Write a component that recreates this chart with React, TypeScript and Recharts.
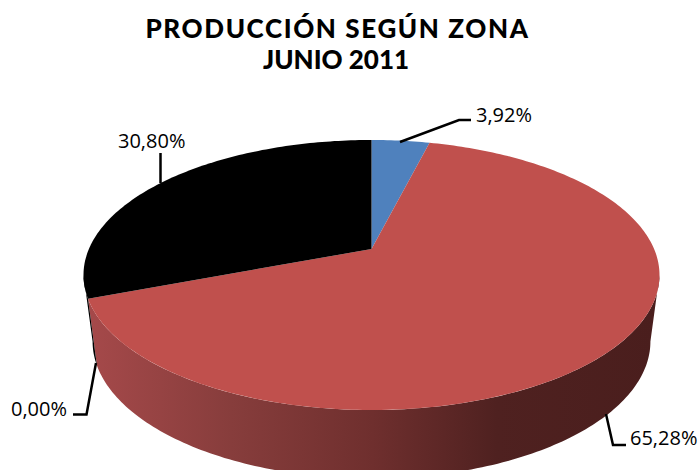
import React from "react";
import { PieChart, Pie, Cell } from "recharts";

const zones = ["Zona A", "Zona B", "Zona C", "Zona D"];
const shares = [3.92, 65.28, 0.0, 30.8];
const colors = ["#4f81bd", "#c0504d", "#9bbb59", "#000000"];
const titleLines = ["PRODUCCIÓN SEGÚN ZONA", "JUNIO 2011"];

const data = zones.map((name, i) => ({ name, value: shares[i] }));

const WIDTH = 699;
const HEIGHT = 470;
const CX = 371.5;
const CY = 249;
const RADIUS = 282.6;
const TILT = 0.1926; // perspective of the disc
const SQUASH = 130 / RADIUS;
const BOTTOM_RADIUS = 273.7;
const BOTTOM_CY = 315;
const BOTTOM_SQUASH = 132 / BOTTOM_RADIUS;
const SILHOUETTE = (Math.asin(TILT) * 180) / Math.PI;

const project = (clockDeg: number, r: number, cy: number, squash: number, cx: number) => {
  const t = (clockDeg * Math.PI) / 180;
  const u = Math.sin(t);
  const v = Math.cos(t);
  const d = 1 + TILT * v;
  return [cx + (r * u) / d, cy - (r * squash * v) / d];
};

const rimPoints = (from: number, to: number, r: number, cy: number, squash: number, cx: number) => {
  const n = Math.max(2, Math.ceil(Math.abs(to - from)));
  const pts: number[][] = [];
  for (let i = 0; i <= n; i++) pts.push(project(from + ((to - from) * i) / n, r, cy, squash, cx));
  return pts;
};

const toD = (pts: number[][]) => "M" + pts.map((p) => `${p[0].toFixed(2)},${p[1].toFixed(2)}`).join("L") + "Z";

const wallStops: [number, string][] = [
  [0, "#a5494a"],
  [0.25, "#873d3c"],
  [0.5, "#6f2f2e"],
  [0.72, "#4f2120"],
  [1, "#4a1e1d"],
];

const Slice = (props: any) => {
  const { cx, cy, outerRadius, startAngle, endAngle, fill, index } = props;
  const from = 90 - startAngle;
  const to = 90 - endAngle;
  if (Math.abs(to - from) < 0.001) return <g />;
  const top = rimPoints(from, to, outerRadius, cy, SQUASH, cx);
  const wFrom = Math.max(from, 90 + SILHOUETTE);
  const wTo = Math.min(to, 270 - SILHOUETTE);
  const hasWall = wTo > wFrom;
  const wallFill = index === 1 ? "url(#wallGradient)" : fill;
  return (
    <g>
      <defs>
        <linearGradient id="wallGradient" gradientUnits="userSpaceOnUse" x1={90} y1={0} x2={655} y2={0}>
          {wallStops.map(([o, c]) => (
            <stop key={o} offset={o} stopColor={c} />
          ))}
        </linearGradient>
      </defs>
      {hasWall && (
        <path
          d={toD([
            ...rimPoints(wFrom, wTo, outerRadius, cy, SQUASH, cx),
            ...rimPoints(wTo, wFrom, BOTTOM_RADIUS, BOTTOM_CY, BOTTOM_SQUASH, cx),
          ])}
          fill={wallFill}
        />
      )}
      <path d={toD([[cx, cy], ...top])} fill={fill} />
    </g>
  );
};

const leaders = [
  { line: [[400, 142], [459, 120], [471, 120]], text: [476, 122] },
  { line: [[606, 414], [613, 445], [626, 445]], text: [630, 445] },
  { line: [[96, 363], [86.5, 414.5], [73, 414.5]], text: [11, 416] },
  { line: [[160.5, 183], [160.5, 153]], text: [118, 148] },
];

const Label = (props: any) => {
  const { index, value } = props;
  const l = leaders[index];
  return (
    <g>
      <polyline
        points={l.line.map((p) => p.join(",")).join(" ")}
        fill="none"
        stroke="#000"
        strokeWidth={2.5}
      />
      <text x={l.text[0]} y={l.text[1]} fontFamily="'Open Sans'" fontSize={20} fill="#000" textAnchor="start">
        {value.toFixed(2).replace(".", ",")}%
      </text>
    </g>
  );
};

export default function App() {
  return (
    <div style={{ position: "absolute", left: 0, top: 0, width: WIDTH, height: HEIGHT, overflow: "visible" }}>
      <PieChart width={WIDTH} height={HEIGHT} margin={{ top: 0, right: 0, bottom: 0, left: 0 }}>
        <Pie
          data={data}
          dataKey="value"
          nameKey="name"
          cx={CX}
          cy={CY}
          innerRadius={0}
          outerRadius={RADIUS}
          startAngle={90}
          endAngle={-270}
          stroke="none"
          shape={Slice}
          label={Label}
          labelLine={false}
          isAnimationActive={false}
        >
          {data.map((d, i) => (
            <Cell key={d.name} fill={colors[i]} />
          ))}
        </Pie>
        <text x={337.5} y={38} textAnchor="middle" fontFamily="Lato" fontWeight={900} fontSize={26} letterSpacing={1.6} fill="#000">
          {titleLines[0]}
        </text>
        <text x={336} y={69} textAnchor="middle" fontFamily="Lato" fontWeight={900} fontSize={26} fill="#000">
          {titleLines[1]}
        </text>
      </PieChart>
    </div>
  );
}
